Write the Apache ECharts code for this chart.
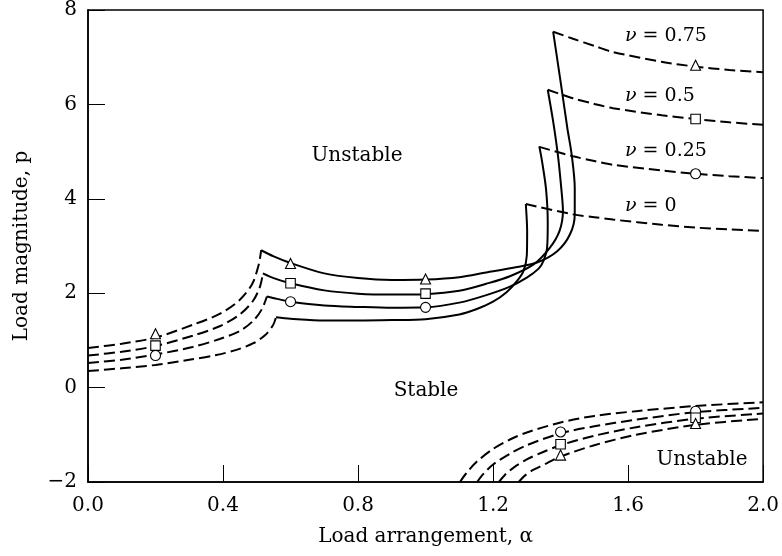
<!DOCTYPE html>
<html>
<head>
<meta charset="utf-8">
<script src="https://cdn.jsdelivr.net/npm/echarts@6/dist/echarts.min.js"></script>
<style>
html,body{margin:0;padding:0;background:#fff;}
#chart{width:782px;height:556px;}
</style>
</head>
<body>
<div id="chart"></div>
<script>
// ---- data (alpha, p) ----
const nuLabels = ['ν = 0', 'ν = 0.25', 'ν = 0.5', 'ν = 0.75'];
const xTickLabels = ['0.0', '0.4', '0.8', '1.2', '1.6', '2.0'];
const yTickLabels = ['−2', '0', '2', '4', '6', '8'];

// left rising dashed branches
const nu0Left   = [[0,0.35],[0.1,0.41],[0.2,0.48],[0.3,0.59],[0.38,0.69],[0.44,0.8],[0.49,0.94],[0.526,1.12],[0.548,1.32],[0.557,1.49]];
const nu25Left  = [[0,0.52],[0.1,0.59],[0.2,0.7],[0.31,0.86],[0.39,1.03],[0.45,1.2],[0.49,1.42],[0.515,1.66],[0.53,1.93]];
const nu50Left  = [[0,0.68],[0.1,0.76],[0.2,0.88],[0.31,1.1],[0.39,1.3],[0.45,1.55],[0.49,1.85],[0.51,2.15],[0.518,2.42]];
const nu75Left  = [[0,0.84],[0.1,0.93],[0.2,1.06],[0.31,1.33],[0.39,1.56],[0.447,1.84],[0.486,2.19],[0.506,2.61],[0.513,2.91]];

// solid stability boundaries
const nu0Solid  = [[0.557,1.49],[0.6,1.46],[0.7,1.42],[0.8,1.42],[0.9,1.43],[1.0,1.45],[1.1,1.55],[1.15,1.66],[1.2,1.82],[1.24,2.02],[1.27,2.25],[1.29,2.47],[1.3,2.8],[1.301,3.3],[1.297,3.89]];
const nu25Solid = [[0.53,1.93],[0.56,1.88],[0.6,1.82],[0.7,1.74],[0.8,1.71],[0.9,1.69],[1.0,1.7],[1.1,1.8],[1.18,1.96],[1.25,2.14],[1.3,2.33],[1.335,2.52],[1.349,2.68],[1.36,2.96],[1.362,3.5],[1.357,4.2],[1.345,4.8],[1.337,5.11]];
const nu50Solid = [[0.518,2.42],[0.55,2.32],[0.6,2.21],[0.7,2.06],[0.8,1.99],[0.9,1.97],[1.0,1.98],[1.1,2.05],[1.18,2.2],[1.25,2.36],[1.32,2.61],[1.368,2.96],[1.397,3.32],[1.407,3.74],[1.402,4.23],[1.392,4.93],[1.378,5.64],[1.362,6.31]];
const nu75Solid = [[0.513,2.91],[0.55,2.78],[0.6,2.64],[0.7,2.42],[0.8,2.32],[0.9,2.28],[1.0,2.29],[1.1,2.34],[1.18,2.44],[1.26,2.54],[1.33,2.65],[1.39,2.89],[1.428,3.25],[1.442,3.67],[1.442,4.23],[1.433,4.93],[1.42,5.5],[1.403,6.34],[1.378,7.54]];

// right decaying dashed branches
const nu0Right  = [[1.297,3.89],[1.437,3.67],[1.5,3.61],[1.555,3.56],[1.7,3.45],[1.8,3.39],[1.9,3.35],[2.0,3.32]];
const nu25Right = [[1.337,5.1],[1.437,4.9],[1.5,4.8],[1.555,4.72],[1.7,4.6],[1.8,4.53],[1.9,4.48],[2.0,4.44]];
const nu50Right = [[1.362,6.31],[1.437,6.13],[1.5,6.01],[1.555,5.92],[1.7,5.77],[1.8,5.69],[1.9,5.62],[2.0,5.57]];
const nu75Right = [[1.378,7.54],[1.437,7.39],[1.5,7.24],[1.555,7.11],[1.702,6.9],[1.8,6.8],[1.9,6.73],[2.0,6.68]];

// lower dashed branches (negative p)
const nu0Lower  = [[1.102,-2],[1.12,-1.82],[1.15,-1.58],[1.2,-1.3],[1.25,-1.1],[1.3,-0.95],[1.4,-0.74],[1.5,-0.6],[1.624,-0.5],[1.8,-0.39],[2.0,-0.31]];
const nu25Lower = [[1.153,-2],[1.17,-1.84],[1.2,-1.63],[1.25,-1.4],[1.3,-1.22],[1.4,-0.97],[1.5,-0.82],[1.624,-0.68],[1.8,-0.52],[2.0,-0.43]];
const nu50Lower = [[1.217,-2],[1.235,-1.85],[1.26,-1.7],[1.3,-1.52],[1.35,-1.36],[1.4,-1.22],[1.5,-1.02],[1.624,-0.84],[1.8,-0.66],[2.0,-0.55]];
const nu75Lower = [[1.276,-2],[1.295,-1.86],[1.32,-1.74],[1.36,-1.6],[1.4,-1.46],[1.5,-1.22],[1.624,-1.0],[1.8,-0.79],[2.0,-0.66]];

// markers
const nu25Markers = [[0.2,0.68],[0.6,1.82],[1.0,1.7],[1.8,4.53],[1.4,-0.94],[1.8,-0.5]];
const nu50Markers = [[0.2,0.89],[0.6,2.21],[1.0,1.99],[1.8,5.69],[1.4,-1.2],[1.8,-0.64]];
const nu75Markers = [[0.2,1.14],[0.6,2.63],[1.0,2.3],[1.8,6.83],[1.4,-1.43],[1.8,-0.76]];

// ---- chart ----
const FONT = 'DejaVu Serif';
const chart = echarts.init(document.getElementById('chart'), null, {renderer: 'canvas'});

function dashed(data) {
  return {type: 'line', data: data, showSymbol: false, smooth: 0.3, silent: true,
    lineStyle: {color: '#000', width: 2, type: [11, 5]}, z: 3};
}
function solid(data) {
  return {type: 'line', data: data, showSymbol: false, smooth: 0.3, silent: true,
    lineStyle: {color: '#000', width: 2}, z: 3};
}
function markers(data, symbol, size) {
  return {type: 'scatter', data: data, symbol: symbol, symbolSize: size, silent: true,
    itemStyle: {color: '#fff', opacity: 1, borderColor: '#000', borderWidth: 1.1}, z: 5};
}

const series = [
  dashed(nu0Left), dashed(nu25Left), dashed(nu50Left), dashed(nu75Left),
  solid(nu0Solid), solid(nu25Solid), solid(nu50Solid), solid(nu75Solid),
  dashed(nu0Right), dashed(nu25Right), dashed(nu50Right), dashed(nu75Right),
  dashed(nu0Lower), dashed(nu25Lower), dashed(nu50Lower), dashed(nu75Lower),
  markers(nu25Markers, 'circle', 10),
  markers(nu50Markers, 'rect', 9.5),
  markers(nu75Markers, 'triangle', 10)
];

function nuText(label, x, y) {
  const parts = label.split(' ');
  return {type: 'text', left: x, top: y,
    style: {text: '{i|' + parts[0] + '}' + ' ' + parts.slice(1).join(' '),
      font: '19px "' + FONT + '"', fill: '#000',
      rich: {i: {fontFamily: FONT, fontStyle: 'italic', fontSize: 19}}}};
}
function plainText(t, cx, cy) {
  return {type: 'text', x: cx, y: cy,
    style: {text: t, font: '20px "' + FONT + '"', fill: '#000', align: 'center', verticalAlign: 'middle'}};
}

chart.setOption({
  animation: false,
  backgroundColor: '#fff',
  grid: {left: 88, right: 14, top: 8, bottom: 74, show: true, borderColor: '#000', borderWidth: 1.5},
  xAxis: {
    type: 'value', min: 0, max: 2, interval: 0.4,
    name: 'Load arrangement, α', nameLocation: 'middle', nameGap: 45,
    nameTextStyle: {fontFamily: FONT, fontSize: 20, color: '#000'},
    axisLine: {onZero: false, lineStyle: {color: '#000', width: 1.5}},
    axisTick: {inside: true, length: 17, lineStyle: {color: '#000', width: 1}},
    axisLabel: {margin: 14, fontFamily: FONT, fontSize: 20, color: '#000',
      formatter: function (v) { return xTickLabels[Math.round(v / 0.4)]; }},
    splitLine: {show: false}
  },
  yAxis: {
    type: 'value', min: -2, max: 8, interval: 2,
    name: 'Load magnitude, p', nameLocation: 'middle', nameGap: 56,
    nameTextStyle: {fontFamily: FONT, fontSize: 20, color: '#000'},
    axisLine: {onZero: false, lineStyle: {color: '#000', width: 1.5}},
    axisTick: {inside: true, length: 17, lineStyle: {color: '#000', width: 1}},
    axisLabel: {margin: 11, fontFamily: FONT, fontSize: 20, color: '#000',
      formatter: function (v) { return yTickLabels[Math.round((v + 2) / 2)]; }},
    splitLine: {show: false}
  },
  graphic: [
    plainText('Unstable', 357, 156),
    plainText('Stable', 426, 391),
    plainText('Unstable', 702, 460),
    nuText(nuLabels[3], 625, 27),
    nuText(nuLabels[2], 625, 87),
    nuText(nuLabels[1], 625, 142),
    nuText(nuLabels[0], 625, 197)
  ],
  series: series
});
</script>
</body>
</html>
